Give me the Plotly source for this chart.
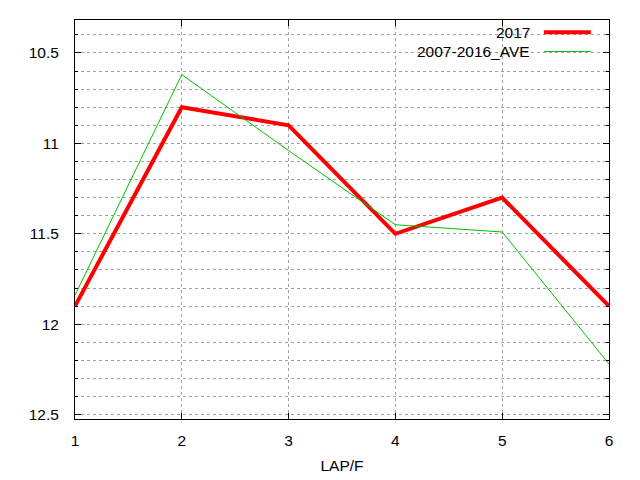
import plotly.graph_objects as go

laps = [1, 2, 3, 4, 5, 6]
y2017 = [11.9, 10.8, 10.9, 11.5, 11.3, 11.9]
yave = [11.84, 10.62, 11.04, 11.45, 11.49, 12.22]
names = ["2017", "2007-2016_AVE"]
colors = ["#ff0000", "#00c000"]
widths = [4, 1]

FONT = dict(family="Liberation Sans, Arial, sans-serif", size=15.5, color="black")

fig = go.Figure()
for yv, nm, c, w in zip([y2017, yave], names, colors, widths):
    fig.add_trace(go.Scatter(x=laps, y=yv, mode="lines", name=nm,
                             line=dict(color=c, width=w), showlegend=False))

# legend drawn gnuplot-style (text right-aligned, sample on the right)
leg_y = [0.969, 0.921]
for nm, c, w, ly in zip(names, colors, widths, leg_y):
    fig.add_annotation(xref="paper", yref="paper", x=0.855, y=ly, text=nm,
                       showarrow=False, xanchor="right", yanchor="middle", font=FONT)
    fig.add_shape(type="line", xref="paper", yref="paper", x0=0.878, x1=0.966,
                  y0=ly, y1=ly, line=dict(color=c, width=w))

grid = dict(showgrid=True, gridcolor="#a0a0a0", gridwidth=1, griddash="dot")

fig.update_layout(
    width=640, height=480,
    margin=dict(l=67, r=39, t=12, b=69),
    plot_bgcolor="white", paper_bgcolor="white",
    font=FONT,
    xaxis=dict(range=[1, 6], dtick=1, tick0=1, ticks="inside", ticklen=6,
               tickcolor="black", showline=True, linecolor="black", linewidth=1,
               mirror="ticks", zeroline=False, ticklabelstandoff=7,
               title=dict(text="LAP/F", font=FONT, standoff=12), **grid),
    yaxis=dict(range=[12.524, 10.318], dtick=0.5, tick0=10.5, ticks="inside",
               ticklen=6, tickcolor="black", showline=True, linecolor="black",
               linewidth=1, mirror="ticks", zeroline=False, ticklabelstandoff=12,
               minor=dict(dtick=0.1, tick0=10.5, ticks="inside", ticklen=3,
                          tickcolor="black", showgrid=True, gridcolor="#a0a0a0",
                          griddash="dot", gridwidth=1),
               **grid),
)

fig.write_html("out.html")
